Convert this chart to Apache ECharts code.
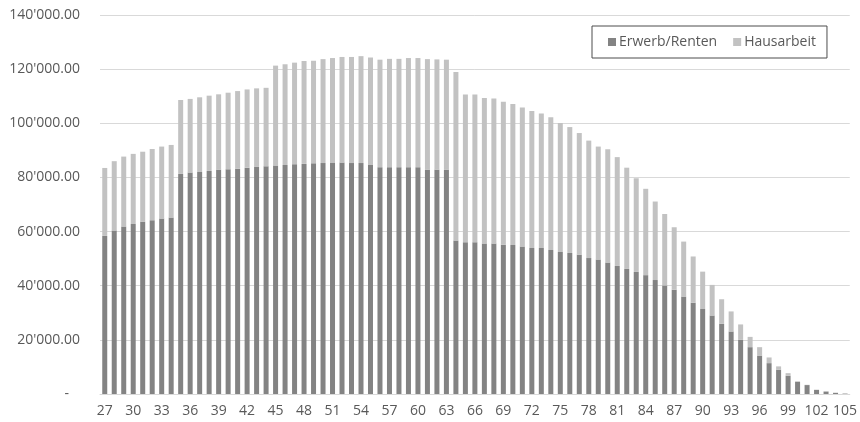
<!DOCTYPE html>
<html>
<head>
<meta charset="utf-8">
<script src="https://cdn.jsdelivr.net/npm/echarts@6/dist/echarts.min.js"></script>
<style>
  html, body { margin: 0; padding: 0; background: #fff; }
  #chart { width: 860px; height: 422px; }
</style>
</head>
<body>
<div id="chart"></div>
<script>
// Ages 27..105
const ages = [];
for (let a = 27; a <= 105; a++) ages.push(String(a));

// Income from work / pensions per age
const erwerb = [
  58400, 60400, 61900, 62800, 63600, 64200, 64800, 65200,
  81300, 81800, 82000, 82400, 82800, 83000, 83200, 83600, 83900, 84100,
  84400, 84600, 84900, 85000, 85200, 85300, 85500, 85500, 85300, 85300,
  84600, 83800, 83800, 83800, 83800, 83800, 82800, 82800, 82800,
  56700, 56100, 56100, 55600, 55600, 55100, 55000, 54500, 53900, 53900,
  53200, 52500, 52100, 51400, 50200, 49700, 48600, 47300, 46200, 45100,
  43900, 42100, 40100, 38500, 36000, 33700, 31400, 29000, 25900, 23100,
  20000, 17300, 14200, 11400, 9000, 6700, 4500, 3300, 1500, 900, 400, 150
];

// Value of household work per age
const hausarbeit = [
  25100, 25600, 25800, 25900, 25900, 26300, 26600, 26800,
  27300, 27200, 27600, 27800, 27900, 28300, 28700, 28900, 29000, 29000,
  36900, 37200, 37500, 38000, 37900, 38400, 38600, 39000, 39200, 39500,
  39700, 39700, 40000, 40000, 40300, 40300, 40900, 40800, 40700,
  62200, 54500, 54500, 53700, 53600, 52900, 52100, 51300, 50600, 49700,
  49000, 47600, 46500, 45000, 43400, 41700, 41800, 40200, 37400, 34600,
  31900, 29000, 26400, 23100, 20300, 17100, 13800, 11300, 9100, 7400,
  5700, 3800, 3100, 2100, 1200, 1000, 200, 100, 100, 100, 100, 50
];

const seriesNames = ['Erwerb/Renten', 'Hausarbeit'];

const FONT = '"Open Sans", "Noto Sans", sans-serif';
const TEXT = '#595959';

function fmtThousands(v) {
  if (v === 0) return '-   ';
  const s = String(Math.round(v)).replace(/\B(?=(\d{3})+(?!\d))/g, "'");
  return s + '.00';
}

const chart = echarts.init(document.getElementById('chart'), null, { renderer: 'canvas' });
chart.setOption({
  animation: false,
  backgroundColor: '#ffffff',
  textStyle: { fontFamily: FONT },
  grid: { left: 100, right: 4, top: 15, bottom: 28, containLabel: false },
  legend: {
    data: seriesNames,
    left: 592,
    top: 26,
    orient: 'horizontal',
    icon: 'rect',
    itemWidth: 8,
    itemHeight: 8,
    itemGap: 16,
    borderColor: '#4d4d4d',
    borderWidth: 1,
    borderRadius: 0,
    padding: [9, 11, 9, 16],
    textStyle: { color: TEXT, fontSize: 14, fontFamily: FONT, padding: [0, 0, 0, -2] }
  },
  xAxis: {
    type: 'category',
    data: ages,
    axisTick: { show: false },
    axisLine: { show: true, lineStyle: { color: '#d9d9d9', width: 1 } },
    axisLabel: { interval: 2, color: TEXT, fontSize: 14, fontFamily: FONT, margin: 10 }
  },
  yAxis: {
    type: 'value',
    min: 0,
    max: 140000,
    interval: 20000,
    axisLine: { show: false },
    axisTick: { show: false },
    splitLine: { lineStyle: { color: '#d9d9d9', width: 1 } },
    axisLabel: { color: TEXT, fontSize: 14, fontFamily: FONT, margin: 20, formatter: fmtThousands }
  },
  series: [
    {
      name: seriesNames[0],
      type: 'bar',
      stack: 'total',
      data: erwerb,
      barWidth: 5,
      itemStyle: { color: '#838383' }
    },
    {
      name: seriesNames[1],
      type: 'bar',
      stack: 'total',
      data: hausarbeit,
      barWidth: 5,
      itemStyle: { color: '#c2c2c2' }
    }
  ]
});
</script>
</body>
</html>
